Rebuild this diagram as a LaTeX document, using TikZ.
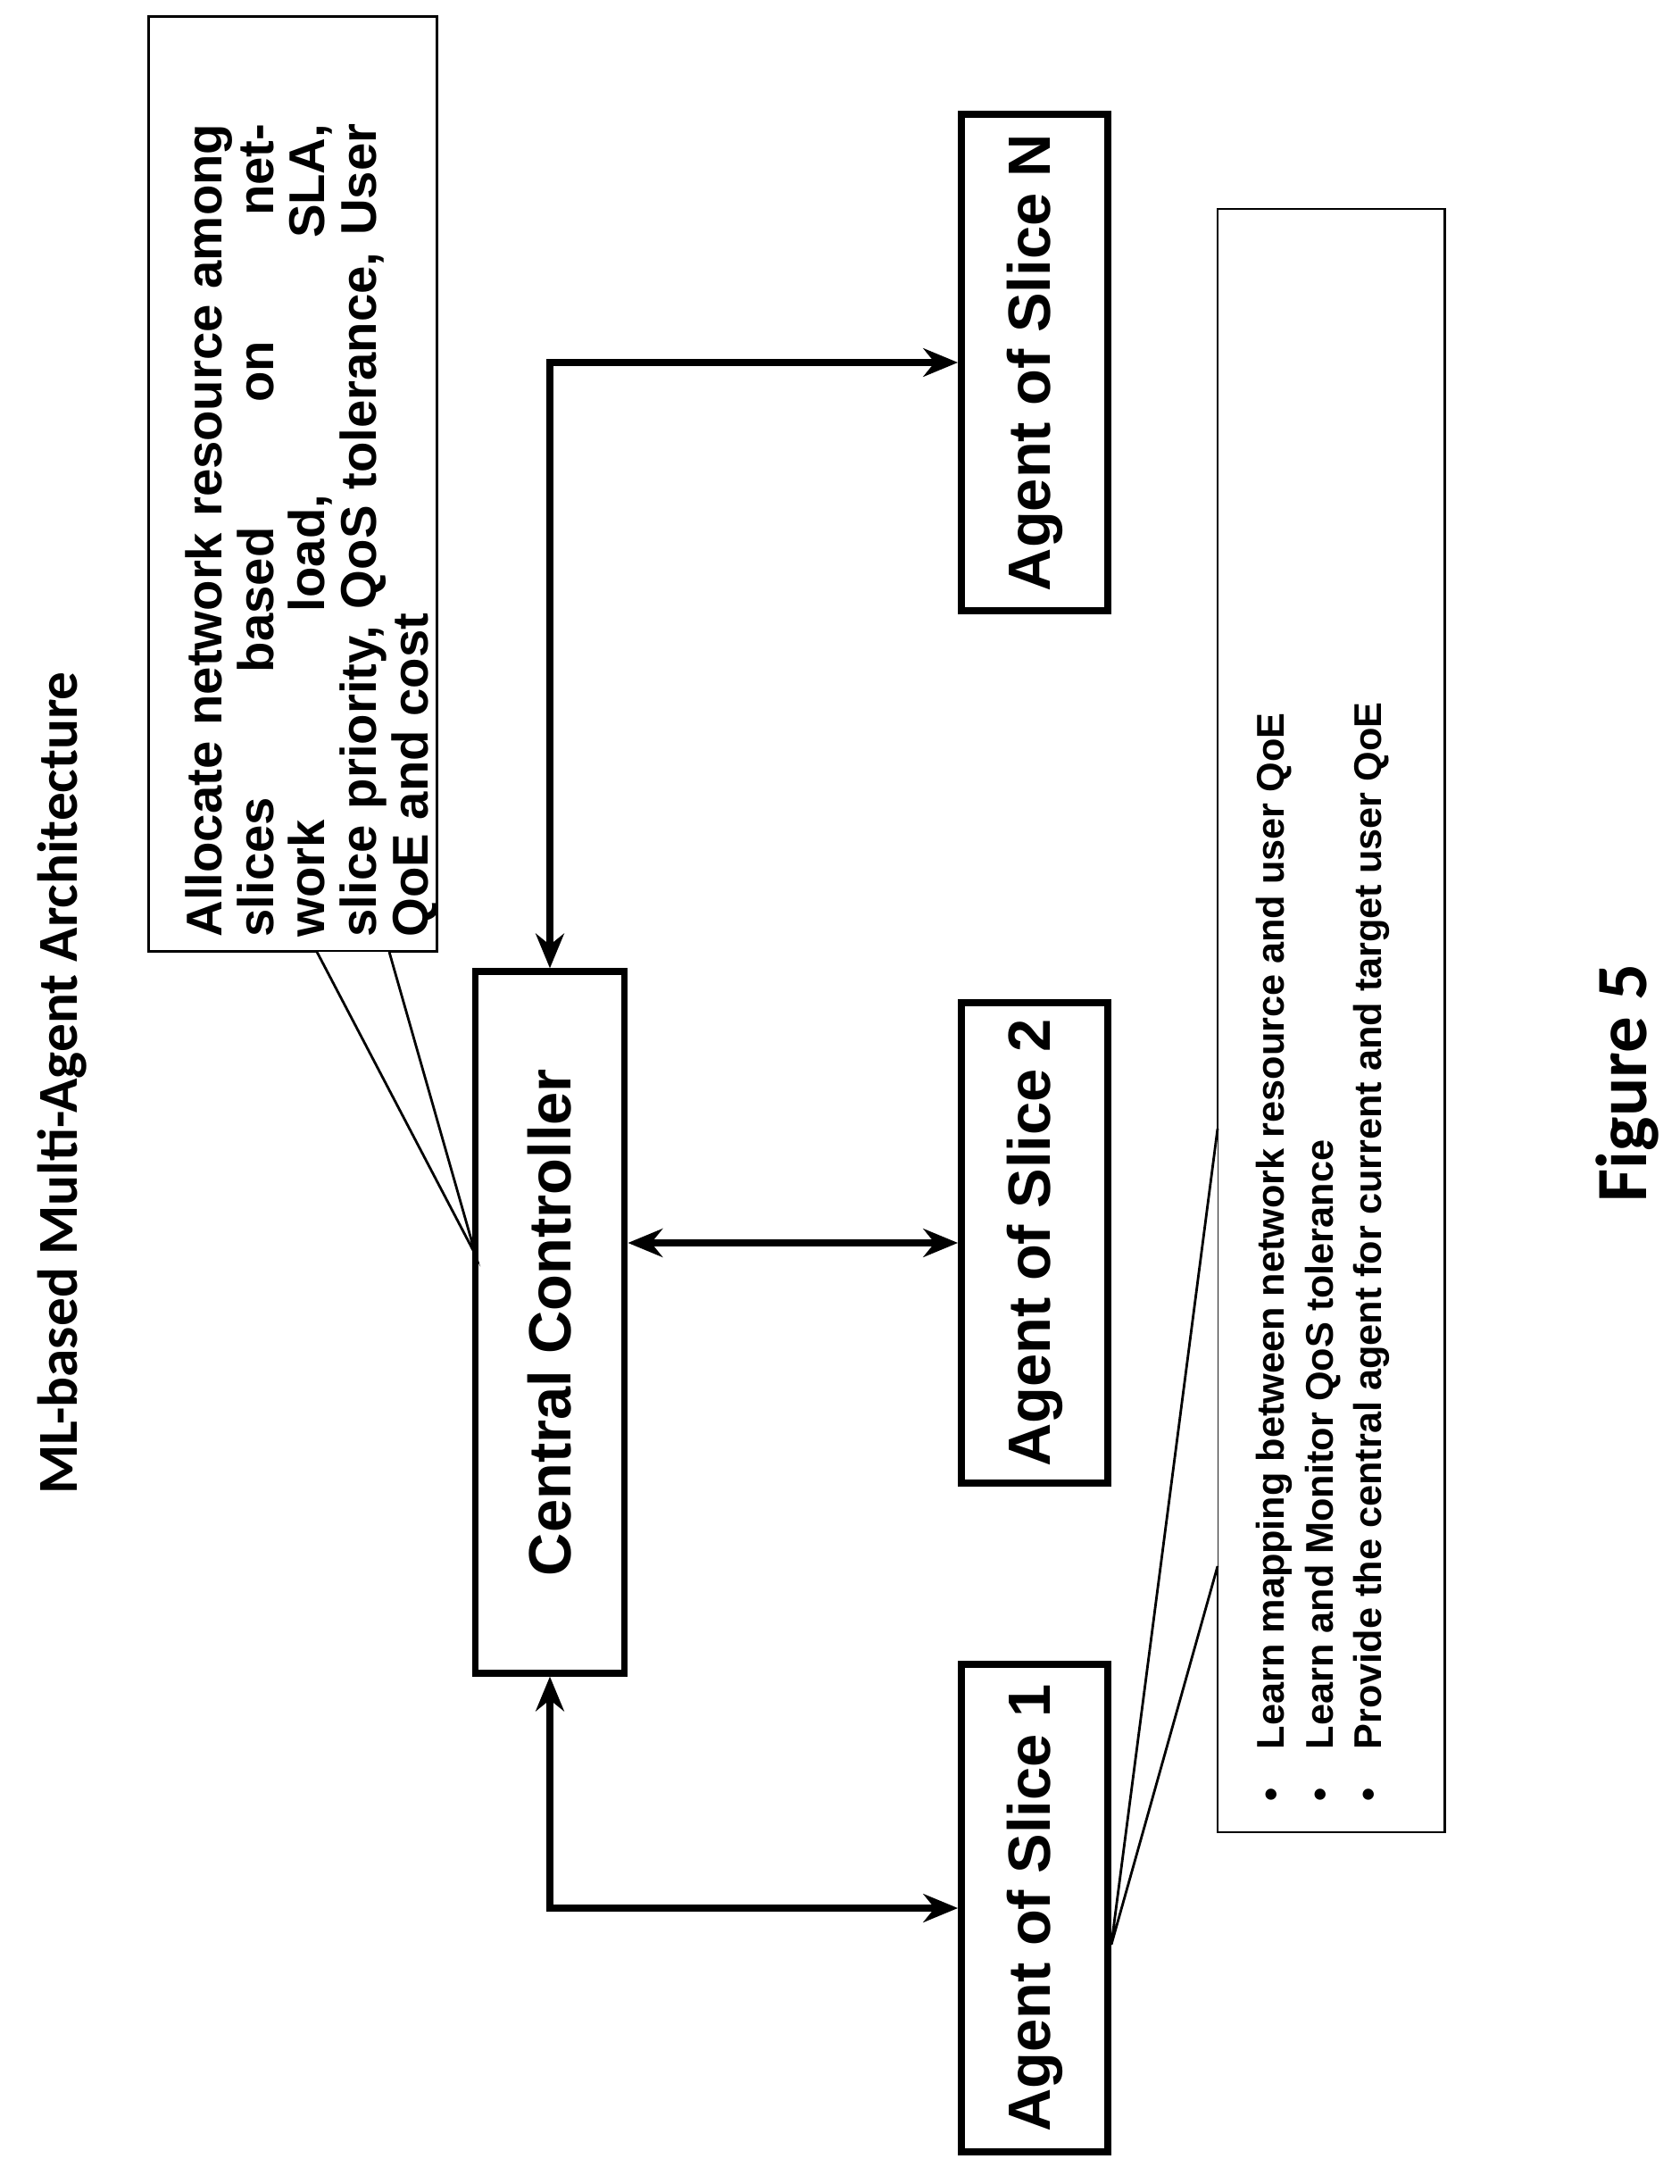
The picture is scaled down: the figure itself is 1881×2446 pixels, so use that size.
\documentclass[tikz,border=0pt]{standalone}
\usepackage{fontspec}
\setmainfont{Liberation Sans}
\newfontfamily\calibri{Carlito}
\usetikzlibrary{arrows.meta,positioning}
\begin{document}
\begin{tikzpicture}[x=0.01cm,y=0.01cm]
      \tikzstyle{agent}=[rectangle, draw=black, line width=2.2pt, rotate=90, minimum height=1.64cm, font=\fontsize{19}{22}\selectfont\bfseries]
      \tikzstyle{note}=[rectangle, draw=black, line width=0.8pt, fill=white, rotate=90, inner sep=0pt]
      \tikzstyle{connect}=[{Stealth[length=11pt,width=9pt]}-{Stealth[length=11pt,width=9pt]}, line width=2.2pt]
      \tikzstyle{pointer}=[line width=0.8pt]

      \useasboundingbox (0,0) rectangle (1881,-2446);

      % title and caption
      \node[rotate=90, font=\calibri\fontsize{18}{21}\selectfont\bfseries] (title) at (70,-1213) {ML-based Multi-Agent Architecture};
      \node[rotate=90, font=\calibri\fontsize{23}{27}\selectfont\bfseries] (fig) at (1823,-1213) {Figure 5};

      % controller and agents
      \node[agent, minimum width=7.85cm, minimum height=1.67cm] (cc) at (616,-1481) {Central Controller};
      \node[agent, minimum width=5.45cm] (a1) at (1159,-2137) {Agent of Slice 1};
      \node[agent, minimum width=5.38cm] (a2) at (1159,-1392) {Agent of Slice 2};
      \node[agent, minimum width=5.56cm] (an) at (1159,-406) {Agent of Slice N};

      \draw[connect] (cc.east) |- (an.north);
      \draw[connect] (cc.west) |- (a1.north);
      \draw[connect] (cc.south |- a2.north) -- (a2.north);

      % callouts
      \node[note, minimum width=10.47cm, minimum height=3.23cm] (n1) at (328,-542) {};
      \node[rotate=90, anchor=north west, text width=9.1cm, align=justify, inner sep=0pt, font=\fontsize{16}{16.4}\selectfont\bfseries] (t1) at (207,-1050)
        {Allocate network resource among\linebreak slices based on network load, SLA,\linebreak slice priority, QoS tolerance, User\linebreak QoE and cost};
      \coordinate (p1) at (355,-1066);
      \coordinate (p2) at (436,-1066);
      \coordinate (tip1) at (533,-1406);
      \fill[white] (p1) -- (tip1) -- (p2) -- cycle;
      \draw[pointer] (p1) -- (tip1) -- (p2);

      \node[note, minimum width=18.17cm, minimum height=2.54cm] (n2) at (1491,-1143) {};
      \node[rotate=90, anchor=north west, align=left, font=\fontsize{12.3}{15.5}\selectfont\bfseries] (t2) at (1395,-2030)
        {\textbullet\quad Learn mapping between network resource and user QoE\\
         \textbullet\quad Learn and Monitor QoS tolerance\\
         \textbullet\quad Provide the central agent for current and target user QoE};
      \coordinate (p3) at (1364,-1264);
      \coordinate (p4) at (1364,-1754);
      \fill[white] (p3) -- (a1.south |- 0,-2178) -- (p4) -- cycle;
      \draw[pointer] (p3) -- (a1.south |- 0,-2178) -- (p4);
\end{tikzpicture}
\end{document}
